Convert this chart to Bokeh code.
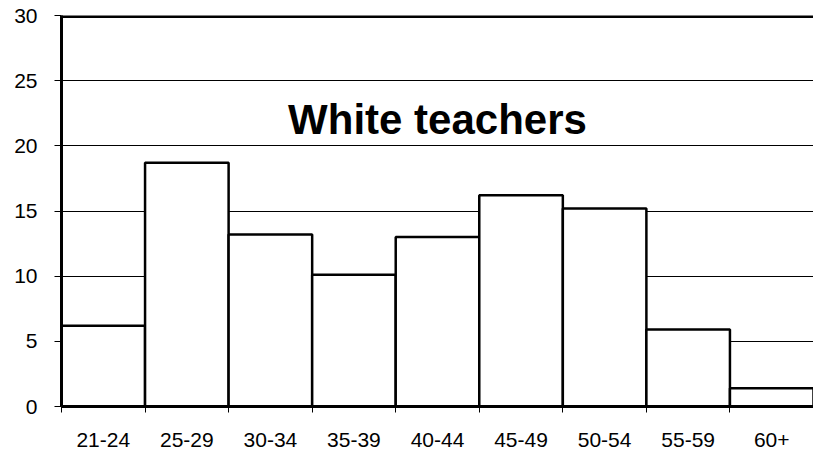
from bokeh.plotting import figure
from bokeh.models import Range1d, FixedTicker, ColumnDataSource, Span
from bokeh.core.properties import value
from bokeh.embed import file_html
from bokeh.resources import INLINE

categories = ["21-24", "25-29", "30-34", "35-39", "40-44", "45-49", "50-54", "55-59", "60+"]
percent = [6.2, 18.7, 13.2, 10.1, 13.0, 16.2, 15.2, 5.9, 1.4]
y_ticks = [0, 5, 10, 15, 20, 25, 30]
title_text = "White teachers"

FONT = "Liberation Sans"

centers = [i + 0.5 for i in range(len(categories))]
src = ColumnDataSource(dict(x=centers, top=percent))

p = figure(width=813, height=456, output_backend="svg", toolbar_location=None,
           x_range=Range1d(0, len(categories)), y_range=Range1d(0, 30),
           min_border_left=61, min_border_right=0, min_border_top=15, min_border_bottom=50)
p.outline_line_color = None
p.background_fill_color = "white"
p.border_fill_color = "white"

p.xgrid.grid_line_color = None
p.ygrid.ticker = FixedTicker(ticks=y_ticks)
p.ygrid.grid_line_color = "black"
p.ygrid.grid_line_width = 1
p.ygrid.grid_line_alpha = 1

p.vbar(x="x", top="top", width=1.0, bottom=0, source=src,
       fill_color="white", line_color="black", line_width=2.5)

# top frame line
p.add_layout(Span(location=30, dimension="width", line_color="black", line_width=5))

# y axis
ya = p.yaxis[0]
ya.ticker = FixedTicker(ticks=y_ticks)
ya.axis_line_color = "black"
ya.axis_line_width = 3
ya.major_tick_line_color = "black"
ya.major_tick_line_width = 1
ya.major_tick_out = 7
ya.major_tick_in = 0
ya.minor_tick_line_color = None
ya.major_label_standoff = 17
ya.major_label_text_font = FONT
ya.major_label_text_font_size = "21px"
ya.major_label_text_color = "black"

# x axis: labels at centres, ticks at boundaries (as minor ticks)
xa = p.xaxis[0]
xa.ticker = FixedTicker(ticks=centers, minor_ticks=list(range(len(categories) + 1)))
xa.major_label_overrides = {c: lab for c, lab in zip(centers, categories)}
xa.axis_line_color = "black"
xa.axis_line_width = 3
xa.major_tick_line_color = None
xa.major_tick_out = 0
xa.major_tick_in = 0
xa.minor_tick_line_color = "black"
xa.minor_tick_line_width = 1
xa.minor_tick_out = 6
xa.minor_tick_in = 0
xa.major_label_standoff = 20
xa.major_label_text_font = FONT
xa.major_label_text_font_size = "21px"
xa.major_label_text_color = "black"

p.text(x=[len(categories) / 2], y=[22.0], text=[title_text],
       text_font=value(FONT), text_font_style="bold", text_font_size="42px",
       text_align="center", text_baseline="alphabetic", text_color="black")

open("out.html", "w").write(file_html(p, INLINE))
